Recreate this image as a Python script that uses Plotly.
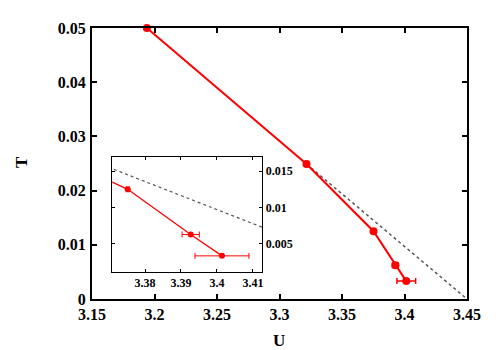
import plotly.graph_objects as go

# data
U = [3.1939, 3.3216, 3.3752, 3.3927, 3.4014]
T = [0.05, 0.0249, 0.0125, 0.00625, 0.0033]
U_err = [0.0, 0.0, 0.0004, 0.0024, 0.0075]
U_line = [3.3216, 3.45]
T_line = [0.0249, 0.0]

x_ticks = [3.15, 3.2, 3.25, 3.3, 3.35, 3.4, 3.45]
x_labels = ["3.15", "3.2", "3.25", "3.3", "3.35", "3.4", "3.45"]
y_ticks = [0, 0.01, 0.02, 0.03, 0.04, 0.05]
y_labels = ["0", "0.01", "0.02", "0.03", "0.04", "0.05"]
ix_ticks = [3.38, 3.39, 3.40, 3.41]
ix_labels = ["3.38", "3.39", "3.4", "3.41"]
iy_ticks = [0.005, 0.01, 0.015]
iy_labels = ["0.005", "0.01", "0.015"]

RED = "#ff0000"
FONT = "Liberation Serif"

fig = go.Figure()

# main
fig.add_trace(go.Scatter(x=U_line, y=T_line, mode="lines",
                         line=dict(color="#555555", width=1.5, dash="dot"),
                         xaxis="x", yaxis="y", showlegend=False, hoverinfo="skip"))
fig.add_trace(go.Scatter(x=U, y=T, mode="lines+markers",
                         line=dict(color=RED, width=2),
                         marker=dict(color=RED, size=8),
                         error_x=dict(type="data", array=U_err, color=RED, thickness=1.5, width=3),
                         cliponaxis=False,
                         xaxis="x", yaxis="y", showlegend=False))

# inset
fig.add_trace(go.Scatter(x=U_line, y=T_line, mode="lines",
                         line=dict(color="#555555", width=1.2, dash="dot"),
                         xaxis="x2", yaxis="y2", showlegend=False, hoverinfo="skip"))
fig.add_trace(go.Scatter(x=U, y=T, mode="lines+markers",
                         line=dict(color=RED, width=1.3),
                         marker=dict(color=RED, size=6),
                         error_x=dict(type="data", array=U_err, color=RED, thickness=1, width=3),
                         xaxis="x2", yaxis="y2", showlegend=False))

axis_common = dict(showline=True, linecolor="black", mirror="ticks", ticks="inside",
                   showgrid=False, zeroline=False, tickcolor="black")

fig.update_layout(
    width=492, height=342,
    margin=dict(l=84, r=33, t=12, b=51),
    plot_bgcolor="white", paper_bgcolor="white",
    font=dict(family=FONT, color="black"),
    xaxis=dict(**axis_common, range=[3.15, 3.45], tickvals=x_ticks, ticktext=x_labels,
               linewidth=2, ticklen=5, tickwidth=1.5,
               tickfont=dict(family=FONT, size=16, weight="bold"), domain=[0, 1]),
    yaxis=dict(**axis_common, range=[0, 0.05], tickvals=y_ticks, ticktext=y_labels,
               linewidth=2, ticklen=5, tickwidth=1.5, ticklabelstandoff=1,
               tickfont=dict(family=FONT, size=16, weight="bold"), domain=[0, 1]),
    xaxis2=dict(**axis_common, range=[3.3709, 3.4126], tickvals=ix_ticks, ticktext=ix_labels,
                linewidth=1, ticklen=3, tickwidth=1, anchor="y2",
                tickfont=dict(family=FONT, size=12, weight="bold"),
                domain=[0.0541, 0.4541]),
    yaxis2=dict(**axis_common, range=[0.0011, 0.0169], tickvals=iy_ticks, ticktext=iy_labels,
                linewidth=1, ticklen=3, tickwidth=1, anchor="x2", side="right",
                tickfont=dict(family=FONT, size=12, weight="bold"),
                domain=[0.1004, 0.5222]),
    annotations=[
        dict(text="<b>T</b>", xref="paper", yref="paper", x=-0.19, y=0.505,
             xanchor="center", yanchor="middle",
             showarrow=False, textangle=-90, font=dict(family=FONT, size=17)),
        dict(text="<b>U</b>", xref="paper", yref="paper", x=0.499, y=-0.154,
             xanchor="center", yanchor="middle",
             showarrow=False, font=dict(family=FONT, size=17)),
    ],
)

fig.write_html("out.html")
